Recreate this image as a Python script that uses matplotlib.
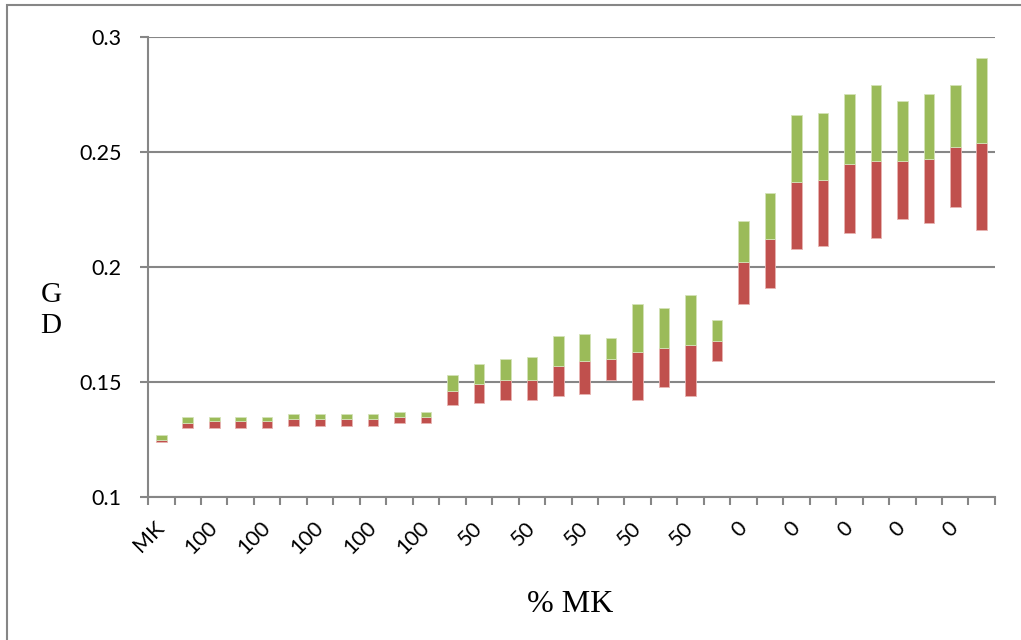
# Diversité GD par configuration : barres flottantes bas / milieu / haut
import matplotlib
matplotlib.use('Agg')
import matplotlib.pyplot as plt
from matplotlib.patches import Rectangle
import numpy as np

# étiquettes des configurations (une sur deux est affichée)
categories = ['MK'] + ['100'] * 10 + ['50'] * 11 + ['0'] * 10

# valeurs lues : bas de la barre rouge, limite rouge/vert, haut de la barre verte
bas = [0.124, 0.130, 0.130, 0.130, 0.130, 0.131, 0.131, 0.131, 0.131, 0.132, 0.132,
       0.140, 0.141, 0.142, 0.142, 0.144, 0.145, 0.151, 0.142, 0.148, 0.144, 0.159,
       0.184, 0.191, 0.208, 0.209, 0.215, 0.2125, 0.221, 0.219, 0.226, 0.216]
milieu = [0.125, 0.132, 0.133, 0.133, 0.133, 0.134, 0.134, 0.134, 0.134, 0.135, 0.135,
          0.146, 0.149, 0.151, 0.151, 0.157, 0.159, 0.160, 0.163, 0.165, 0.166, 0.168,
          0.202, 0.212, 0.237, 0.238, 0.245, 0.246, 0.246, 0.247, 0.252, 0.254]
haut = [0.127, 0.135, 0.135, 0.135, 0.135, 0.136, 0.136, 0.136, 0.136, 0.137, 0.137,
        0.153, 0.158, 0.160, 0.161, 0.170, 0.171, 0.169, 0.184, 0.182, 0.188, 0.177,
        0.220, 0.232, 0.266, 0.267, 0.275, 0.279, 0.272, 0.275, 0.279, 0.291]

rouge = '#C0504D'
vert = '#9BBB59'
gris = '#868686'

x = np.arange(len(categories))
bas = np.array(bas)
milieu = np.array(milieu)
haut = np.array(haut)

plt.rcParams['font.family'] = ['Lato', 'DejaVu Sans']

fig = plt.figure(figsize=(10.21, 6.4), dpi=100)
ax = fig.add_axes([0.145, 0.2234, 0.8295, 0.7188])

# cadre extérieur du graphique
fig.patches.append(Rectangle((0.0069, -0.1), 1.2, 0.1 + 0.992, transform=fig.transFigure,
                             fill=False, edgecolor=gris, linewidth=1.5))

ax.bar(x, milieu - bas, bottom=bas, width=0.4, color=rouge,
       edgecolor='#E8B4B2', linewidth=0.6, zorder=3)
ax.bar(x, haut - milieu, bottom=milieu, width=0.4, color=vert,
       edgecolor='#D4E3B8', linewidth=0.6, zorder=3)

ax.set_xlim(-0.5, len(categories) - 0.5)
ax.set_ylim(0.1, 0.3)
ax.set_yticks([0.1, 0.15, 0.2, 0.25, 0.3])
ax.set_yticklabels(['0.1', '0.15', '0.2', '0.25', '0.3'])
ax.yaxis.grid(True, color=gris, linewidth=1.5, zorder=0)
ax.set_axisbelow(True)

# graduations entre les catégories, étiquettes une sur deux
ax.set_xticks(x[::2])
ax.set_xticklabels([categories[i] for i in x[::2]], rotation=45,
                   ha='right', va='center', rotation_mode='anchor')
ax.set_xticks(np.arange(len(categories) + 1) - 0.5, minor=True)
ax.tick_params(axis='x', which='major', length=0, pad=20, labelsize=15.5)
ax.tick_params(axis='x', which='minor', length=6, width=1.5, color=gris, direction='out')
ax.tick_params(axis='y', length=6, width=1.5, color=gris, pad=13, labelsize=15.5)

for side in ['top', 'right']:
    ax.spines[side].set_visible(False)
for side in ['left', 'bottom']:
    ax.spines[side].set_color(gris)
    ax.spines[side].set_linewidth(1.5)

fig.text(0.05, 0.515, 'G\nD', family='Liberation Serif', fontsize=21,
         ha='center', va='center', linespacing=1.25)
fig.text(0.558, 0.055, '% MK', family='Liberation Serif', fontsize=23,
         ha='center', va='center')

plt.savefig('out.png', dpi=100)
